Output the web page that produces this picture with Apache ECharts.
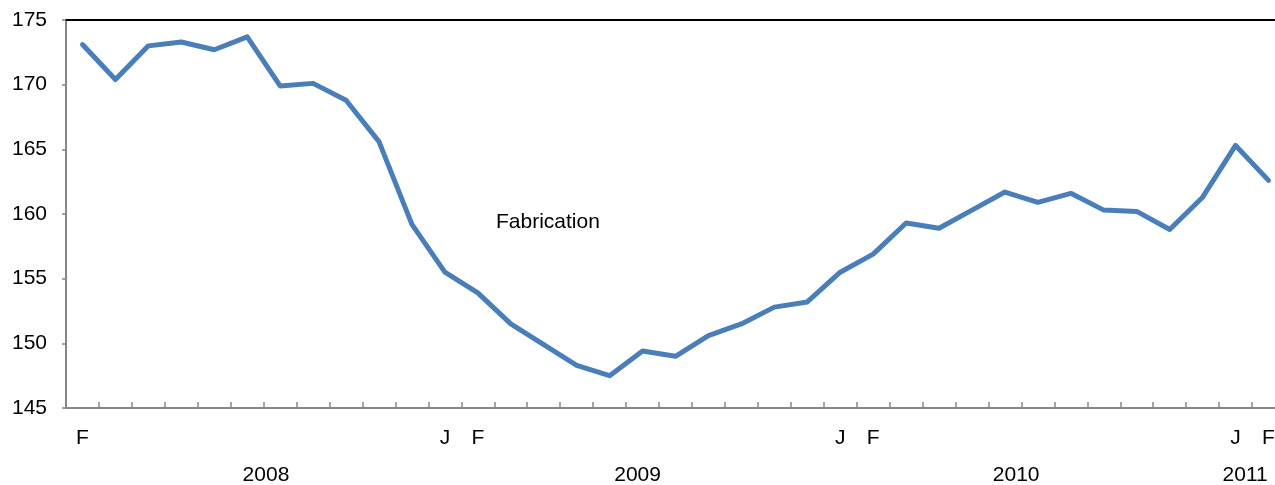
<!DOCTYPE html>
<html>
<head>
<meta charset="utf-8">
<script src="https://cdn.jsdelivr.net/npm/echarts@6/dist/echarts.min.js"></script>
<style>
html,body{margin:0;padding:0;background:#fff;}
#chart{width:1275px;height:485px;}
</style>
</head>
<body>
<div id="chart"></div>
<script>
// Monthly, Feb 2008 .. Feb 2011
const months = ['F','M','A','M','J','J','A','S','O','N','D','J',
                'F','M','A','M','J','J','A','S','O','N','D','J',
                'F','M','A','M','J','J','A','S','O','N','D','J','F'];
const monthLabelsShown = ['F','','','','','','','','','','','J',
                          'F','','','','','','','','','','','J',
                          'F','','','','','','','','','','','J','F'];
const fabrication = [173.1,170.4,173.0,173.3,172.7,173.7,169.9,170.1,168.8,165.6,159.2,155.5,
                     153.9,151.5,149.9,148.3,147.5,149.4,149.0,150.6,151.5,152.8,153.2,155.5,
                     156.9,159.3,158.9,160.3,161.7,160.9,161.6,160.3,160.2,158.8,161.3,165.3,162.6];
const yearLabels = ['2008','2009','2010','2011'];
const seriesName = 'Fabrication';
const yMin = 145, yMax = 175, yStep = 5;

const yearPos = [5.57, 16.85, 28.34, 35.29];
const font = 'Arial, "Liberation Sans", sans-serif';

const chart = echarts.init(document.getElementById('chart'), null, {renderer:'canvas'});
chart.setOption({
  animation:false,
  grid:{left:66, top:20, height:388, width:1219, containLabel:false, outerBoundsMode:'none'},
  xAxis:[
    {type:'category', data:months, boundaryGap:true, position:'bottom',
     axisLine:{onZero:false, lineStyle:{color:'#868686', width:2}},
     axisTick:{show:true, inside:true, length:6, interval:0, alignWithLabel:false,
       lineStyle:{color:'#868686', width:1.5}},
     axisLabel:{interval:0, margin:20, color:'#000', fontSize:21, fontFamily:font,
       formatter:(v,i)=>monthLabelsShown[i]},
     splitLine:{show:false}},
    {type:'value', min:-0.5, max:36.5, position:'bottom',
     axisLine:{show:false, onZero:false}, axisTick:{show:false}, splitLine:{show:false},
     axisLabel:{customValues:yearPos, margin:57, color:'#000', fontSize:21, fontFamily:font,
       showMinLabel:true, showMaxLabel:true,
       formatter:(v)=>{const k=yearPos.indexOf(v); return k>=0?yearLabels[k]:'';}}},
    {type:'category', data:months, position:'top',
     axisLine:{onZero:false, lineStyle:{color:'#000', width:2}}, axisTick:{show:false},
     axisLabel:{show:false}, splitLine:{show:false}}
  ],
  yAxis:{type:'value', min:yMin, max:yMax, interval:yStep,
    axisLine:{show:true, onZero:false, lineStyle:{color:'#868686', width:2}},
    axisTick:{show:true, length:4, lineStyle:{color:'#868686', width:1.5}},
    axisLabel:{margin:19, color:'#000', fontSize:21, fontFamily:font},
    splitLine:{show:false}},
  series:[{name:seriesName, type:'line', data:fabrication, xAxisIndex:0,
    showSymbol:false, symbol:'none', smooth:false,
    lineStyle:{color:'#4A7EBB', width:5, cap:'round', join:'round'}}],
  graphic:[{type:'text', left:496, top:212,
    style:{text:seriesName, fontSize:21, fontFamily:font, fill:'#000'}}]
});
</script>
</body>
</html>
